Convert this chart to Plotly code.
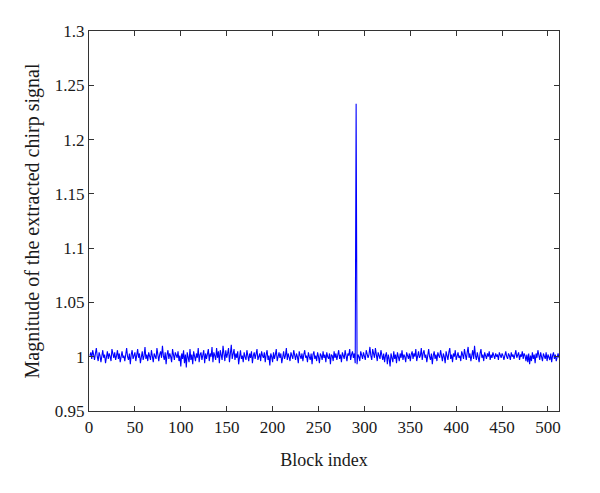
import plotly.graph_objects as go

# magnitude of the extracted chirp signal, one value per block (blocks 1..512)
magnitude = [
    1.001, 1.004, 0.998, 1.006, 1.002, 0.997, 1.003, 1.008, 1.000, 0.996, 1.004, 1.001, 0.995, 1.003, 1.006, 0.999,
    1.002, 0.994, 1.001, 1.005, 0.998, 1.003, 1.000, 0.996, 1.007, 1.002, 0.999, 1.004, 0.997, 1.001, 1.006, 0.998,
    1.003, 0.995, 1.002, 1.005, 0.999, 1.001, 0.996, 1.004, 1.008, 1.000, 0.997, 1.003, 0.993, 1.002, 1.006, 0.998,
    1.001, 1.004, 0.996, 1.000, 1.007, 0.999, 1.003, 0.994, 1.002, 1.005, 0.997, 1.001, 1.009, 0.998, 1.002, 0.996,
    1.004, 1.000, 0.997, 1.006, 1.002, 0.995, 1.003, 1.001, 0.998, 1.008, 1.003, 0.996, 1.002, 1.005, 0.999, 1.010,
    1.001, 0.997, 1.004, 0.993, 1.002, 1.006, 0.998, 1.003, 1.000, 0.995, 1.007, 1.001, 0.997, 1.004, 1.002, 0.999,
    1.005, 0.996, 1.001, 0.991, 1.003, 0.998, 1.006, 0.994, 1.002, 0.990, 1.004, 1.000, 0.995, 1.007, 0.997, 1.002,
    0.993, 1.005, 1.001, 0.996, 1.003, 0.999, 1.008, 0.995, 1.002, 1.004, 0.997, 1.001, 1.006, 0.994, 1.003, 0.998,
    1.002, 1.007, 0.996, 1.003, 1.000, 1.009, 0.995, 1.004, 1.001, 0.997, 1.008, 0.999, 1.005, 0.994, 1.006, 1.002,
    0.997, 1.010, 1.001, 0.996, 1.006, 0.999, 1.003, 1.008, 0.995, 1.004, 1.011, 0.998, 1.002, 1.007, 0.997, 1.003,
    0.999, 1.005, 0.993, 1.002, 1.006, 0.998, 1.001, 0.995, 1.004, 1.000, 0.997, 1.006, 1.002, 0.996, 1.003, 0.999,
    1.005, 0.994, 1.001, 1.004, 0.998, 1.002, 1.007, 0.997, 1.000, 1.003, 0.996, 1.005, 1.001, 0.999, 1.004, 0.995,
    1.002, 1.006, 0.997, 1.001, 0.992, 1.003, 1.000, 0.995, 1.004, 0.998, 1.002, 1.007, 0.996, 1.001, 1.004, 0.999,
    1.003, 0.994, 1.002, 1.005, 0.998, 1.001, 1.008, 0.997, 1.003, 1.000, 0.996, 1.004, 1.001, 0.998, 1.006, 1.002,
    0.997, 1.003, 1.000, 0.994, 1.005, 1.001, 0.998, 1.003, 0.996, 1.002, 1.006, 0.999, 1.001, 0.995, 1.004, 1.000,
    0.997, 1.003, 0.993, 1.002, 1.005, 0.998, 1.001, 0.996, 1.004, 1.000, 0.994, 1.003, 1.001, 0.997, 1.005, 0.999,
    1.002, 0.995, 1.004, 1.000, 0.998, 1.003, 0.993, 1.002, 1.001, 0.996, 1.005, 0.999, 1.003, 0.997, 1.001, 1.006,
    0.998, 1.002, 0.995, 1.004, 1.001, 0.998, 1.006, 1.000, 0.996, 1.003, 1.001, 1.007, 0.997, 1.002, 1.005, 0.999,
    1.003, 0.994, 1.233, 0.993, 1.002, 1.000, 0.996, 1.005, 1.002, 0.998, 1.004, 1.001, 0.997, 1.006, 1.003, 0.999,
    1.002, 1.009, 1.001, 0.997, 1.007, 1.003, 0.999, 1.008, 1.002, 0.996, 1.004, 1.001, 0.998, 1.006, 1.000, 0.997,
    1.003, 0.995, 1.001, 1.004, 0.993, 1.002, 0.998, 0.991, 1.003, 1.000, 0.995, 1.005, 0.998, 1.002, 0.994, 1.004,
    1.001, 0.996, 1.003, 0.999, 1.006, 0.997, 1.002, 1.000, 0.995, 1.004, 1.001, 0.998, 1.003, 0.996, 1.002, 1.005,
    0.998, 1.003, 1.000, 1.007, 0.996, 1.002, 1.005, 0.999, 1.001, 1.008, 0.997, 1.003, 1.006, 0.999, 1.002, 0.995,
    1.004, 1.007, 1.000, 0.997, 1.003, 0.993, 1.001, 1.005, 0.998, 1.002, 0.996, 1.004, 1.001, 0.999, 1.006, 1.002,
    0.996, 1.003, 1.000, 0.994, 1.005, 1.001, 0.997, 1.004, 1.008, 0.998, 1.002, 0.995, 1.003, 1.000, 1.006, 0.997,
    1.002, 1.004, 0.999, 1.001, 0.996, 1.005, 1.002, 0.998, 1.007, 1.000, 0.997, 1.004, 1.009, 0.999, 1.003, 0.996,
    1.002, 1.006, 0.998, 1.010, 1.001, 0.997, 1.004, 1.000, 0.995, 1.003, 1.007, 0.999, 1.002, 0.996, 1.004, 1.001,
    0.998, 1.003, 1.000, 1.005, 0.997, 1.002, 0.999, 1.004, 1.001, 0.998, 1.003, 1.000, 1.002, 0.997, 1.004, 1.001,
    0.999, 1.003, 1.001, 0.997, 1.002, 1.005, 1.000, 0.998, 1.003, 1.001, 0.997, 1.004, 1.000, 1.002, 0.998, 1.003,
    1.006, 0.999, 1.001, 1.004, 0.997, 1.002, 1.000, 1.005, 0.998, 1.003, 1.001, 0.996, 1.002, 0.995, 1.003, 0.993,
    1.001, 0.996, 1.004, 0.998, 1.002, 0.994, 1.003, 0.999, 1.006, 1.001, 0.997, 1.004, 1.000, 0.996, 1.003, 1.001,
    0.998, 1.004, 0.996, 1.002, 1.000, 0.997, 1.003, 0.995, 1.001, 1.004, 0.998, 1.002, 0.996, 1.000, 1.003, 0.999,
]
block_index = list(range(1, len(magnitude) + 1))

x_ticks = [0, 50, 100, 150, 200, 250, 300, 350, 400, 450, 500]
y_ticks = [0.95, 1, 1.05, 1.1, 1.15, 1.2, 1.25, 1.3]

fig = go.Figure()
fig.add_trace(go.Scatter(
    x=block_index, y=magnitude, mode='lines',
    line=dict(color='#0000ff', width=1.1),
    showlegend=False,
))

axis_style = dict(
    showline=True, linecolor='#333333', linewidth=1.3, mirror='ticks',
    ticks='inside', ticklen=5, tickcolor='#333333', tickwidth=1,
    showgrid=False, zeroline=False, automargin=False,
    tickfont=dict(size=17, color='#1a1a1a'),
)

# the page body has an 8px default margin, so the margins are shifted to compensate
fig.update_layout(
    width=600, height=493,
    margin=dict(l=81, r=49, t=23, b=90),
    plot_bgcolor='white', paper_bgcolor='white',
    font=dict(family='Liberation Serif', color='#1a1a1a'),
    xaxis=dict(range=[0, 512], tickvals=x_ticks,
               title=dict(text='Block index', font=dict(size=18), standoff=17),
               **axis_style),
    yaxis=dict(range=[0.95, 1.3], tickvals=y_ticks,
               title=dict(text='Magnitude of the extracted chirp signal', font=dict(size=20), standoff=9),
               **axis_style),
)

fig.write_html("out.html")
